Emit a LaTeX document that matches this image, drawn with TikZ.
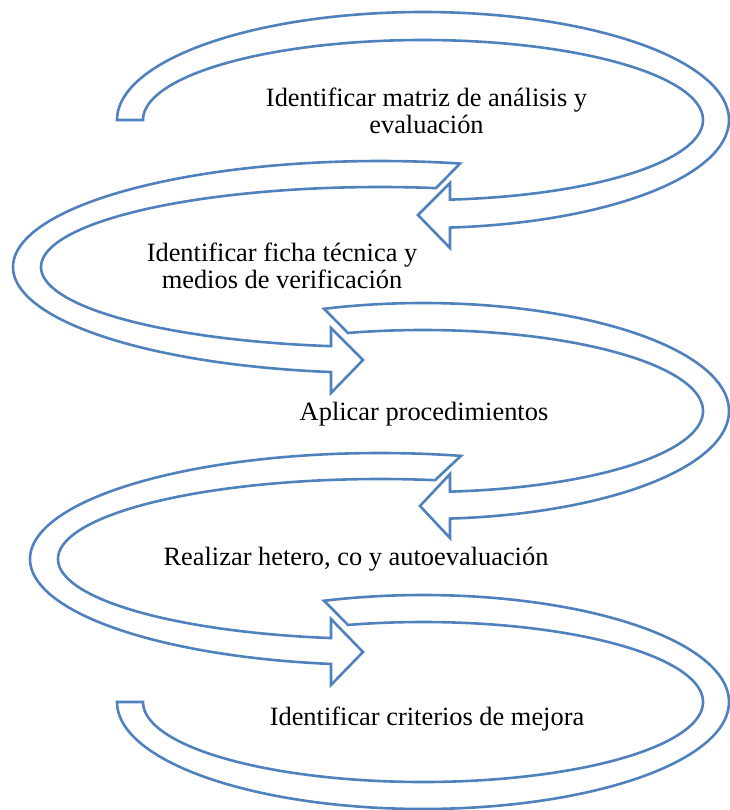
\documentclass[tikz,border=0pt]{standalone}
\usepackage{fontspec}
\setmainfont{Liberation Serif}
\definecolor{bandblue}{RGB}{79,129,189}
\begin{document}
\begin{tikzpicture}[x=1pt,y=-1pt,
  band/.style={draw=bandblue, line width=2.6pt, fill=white, line join=miter},
  lbl/.style={font=\fontsize{26.4}{27}\selectfont, align=center, inner sep=0pt, anchor=base, text=black}]
\useasboundingbox (0,0) rectangle (729,810);
% arrow 1
\draw[band] plot[domain=180:444.94, samples=160, variable=\t] ({423+306*cos(\t)},{120+108*sin(\t)})
  -- (450,248) -- (418,215) -- (450,183)
  -- plot[domain=444.47:180, samples=160, variable=\t] ({423+280*cos(\t)},{120+80*sin(\t)}) -- cycle;
% arrow 2
\draw[band] plot[domain=282.6:97.67, samples=160, variable=\t] ({380+367*cos(\t)},{267+106*sin(\t)})
  -- (331,393) -- (363,360) -- (331,328)
  -- plot[domain=98.31:279.51, samples=160, variable=\t] ({380+339*cos(\t)},{267+80*sin(\t)}) -- cycle;
% arrow 3
\draw[band] plot[domain=251.13:444.94, samples=160, variable=\t] ({423+306*cos(\t)},{411+108*sin(\t)})
  -- (450,538) -- (420,506) -- (450,474)
  -- plot[domain=444.47:254.46, samples=160, variable=\t] ({423+280*cos(\t)},{411+81*sin(\t)}) -- cycle;
% arrow 4
\draw[band] plot[domain=283.38:98.05, samples=160, variable=\t] ({380+350*cos(\t)},{559+106*sin(\t)})
  -- (331,685) -- (363,652) -- (331,619)
  -- plot[domain=98.75:279.83, samples=160, variable=\t] ({380+322*cos(\t)},{559+80*sin(\t)}) -- cycle;
% arrow 5
\draw[band] plot[domain=251.13:540, samples=200, variable=\t] ({423+306*cos(\t)},{702+107*sin(\t)})
  -- plot[domain=540:254.46, samples=200, variable=\t] ({423+280*cos(\t)},{702+80*sin(\t)}) -- cycle;
% labels
\node[lbl] (t1) at (426.5,134) {Identificar matriz de análisis y\\evaluación};
\node[lbl] (t2) at (282,288) {Identificar ficha técnica y\\medios de verificación};
\node[lbl] (t3) at (424,420) {Aplicar procedimientos};
\node[lbl] (t4) at (356,565) {Realizar hetero, co y autoevaluación};
\node[lbl] (t5) at (427,725) {Identificar criterios de mejora};
\end{tikzpicture}
\end{document}
